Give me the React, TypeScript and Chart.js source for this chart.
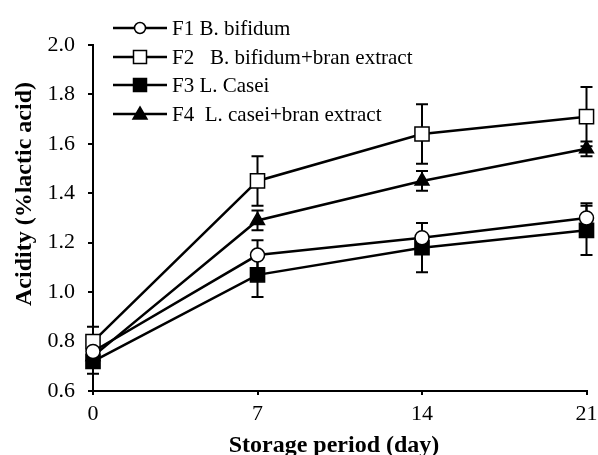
import React, { useEffect, useRef } from "react";
import { Chart, registerables } from "chart.js";

Chart.register(...registerables);

const days = [0, 7, 14, 21];
const labels = ["F1 B. bifidum", "F2   B. bifidum+bran extract", "F3 L. Casei", "F4  L. casei+bran extract"];
const f1 = [0.76, 1.15, 1.22, 1.30];
const f2 = [0.80, 1.45, 1.64, 1.71];
const f3 = [0.72, 1.07, 1.18, 1.25];
const f4 = [0.74, 1.29, 1.45, 1.58];
const e1 = [0.04, 0.06, 0.06, 0.06];
const e2 = [0.06, 0.10, 0.12, 0.12];
const e3 = [0.05, 0.09, 0.10, 0.10];
const e4 = [0.04, 0.04, 0.04, 0.03];
const yTicks = [0.6, 0.8, 1.0, 1.2, 1.4, 1.6, 1.8, 2.0];
const xTitle = "Storage period (day)";
const yTitle = "Acidity (%lactic acid)";

const SERIF = "'Liberation Serif', 'Times New Roman', serif";

export default function App() {
  const ref = useRef<HTMLCanvasElement>(null);
  useEffect(() => {
    const series = [f1, f2, f3, f4];
    const errs = [e1, e2, e3, e4];
    const styles = [
      { ps: "circle", r: 7, bg: "#fff" },
      { ps: "rect", r: 10, bg: "#fff" },
      { ps: "rect", r: 10, bg: "#000" },
      { ps: "triangle", r: 8, bg: "#000" },
    ];
    const datasets = series.map((s, i) => ({
      label: labels[i],
      data: s.map((v, j) => ({ x: days[j], y: v })),
      borderColor: "#000",
      borderWidth: 2.5,
      backgroundColor: styles[i].bg,
      pointStyle: styles[i].ps as any,
      pointRadius: styles[i].r,
      pointBorderWidth: 1.5,
      pointBorderColor: "#000",
      pointBackgroundColor: styles[i].bg,
      tension: 0,
      clip: false as any,
    }));

    const errorBars = {
      id: "errorBars",
      beforeDatasetsDraw(chart: any) {
        const { ctx, scales } = chart;
        ctx.save();
        ctx.strokeStyle = "#000";
        ctx.lineWidth = 2;
        series.forEach((s, i) => {
          s.forEach((v, j) => {
            const x = scales.x.getPixelForValue(days[j]);
            const yt = scales.y.getPixelForValue(v + errs[i][j]);
            const yb = scales.y.getPixelForValue(v - errs[i][j]);
            ctx.beginPath();
            ctx.moveTo(x, yt);
            ctx.lineTo(x, yb);
            ctx.moveTo(x - 6, yt);
            ctx.lineTo(x + 6, yt);
            ctx.moveTo(x - 6, yb);
            ctx.lineTo(x + 6, yb);
            ctx.stroke();
          });
        });
        ctx.restore();
      },
    };

    const overlay = {
      id: "overlay",
      afterDraw(chart: any) {
        const { ctx } = chart;
        ctx.save();
        // legend
        const x0 = 113, x1 = 167, mx = 140, tx = 172;
        const ys = [28, 57, 85, 114];
        chart.data.datasets.forEach((ds: any, i: number) => {
          const y = ys[i];
          ctx.strokeStyle = "#000";
          ctx.lineWidth = 2.5;
          ctx.beginPath();
          ctx.moveTo(x0, y);
          ctx.lineTo(x1, y);
          ctx.stroke();
          const st = styles[i];
          ctx.fillStyle = st.bg;
          ctx.lineWidth = 1.5;
          ctx.beginPath();
          if (st.ps === "circle") {
            ctx.arc(mx, y, 5.5, 0, Math.PI * 2);
          } else if (st.ps === "rect") {
            ctx.rect(mx - 6.5, y - 6.5, 13, 13);
          } else {
            ctx.moveTo(mx, y - 7);
            ctx.lineTo(mx + 7, y + 5);
            ctx.lineTo(mx - 7, y + 5);
            ctx.closePath();
          }
          ctx.fill();
          ctx.stroke();
          ctx.fillStyle = "#000";
          ctx.font = `21px ${SERIF}`;
          ctx.textBaseline = "alphabetic";
          ctx.textAlign = "left";
          ctx.fillText(ds.label, tx, y + 7);
        });
        // axis titles
        ctx.fillStyle = "#000";
        ctx.font = `bold 24px ${SERIF}`;
        ctx.textAlign = "center";
        ctx.textBaseline = "alphabetic";
        ctx.fillText(xTitle, 334, 452);
        ctx.translate(31, 194);
        ctx.rotate(-Math.PI / 2);
        ctx.fillText(yTitle, 0, 0);
        ctx.restore();
      },
    };

    const chart = new Chart(ref.current!, {
      type: "line",
      data: { datasets: datasets as any },
      options: {
        animation: false,
        responsive: false,
        layout: { padding: { top: 45, right: 9, left: 0, bottom: 0 } },
        plugins: { legend: { display: false }, tooltip: { enabled: false } },
        scales: {
          x: {
            type: "linear",
            min: 0,
            max: 21,
            afterBuildTicks: (axis: any) => {
              axis.ticks = days.map((d) => ({ value: d }));
            },
            afterFit: (axis: any) => {
              axis.height = 64;
              axis.paddingLeft = 0;
              axis.paddingRight = 0;
            },
            grid: { display: true, drawOnChartArea: false, drawTicks: true, tickLength: 4, color: "#000", lineWidth: 2 },
            border: { display: true, color: "#000", width: 2 },
            ticks: { color: "#000", font: { family: SERIF, size: 22 }, padding: 6, maxRotation: 0 },
            title: { display: false },
          },
          y: {
            type: "linear",
            min: 0.6,
            max: 2.0,
            afterBuildTicks: (axis: any) => {
              axis.ticks = yTicks.map((v) => ({ value: v }));
            },
            afterFit: (axis: any) => {
              axis.width = 93;
              axis.paddingTop = 0;
              axis.paddingBottom = 0;
            },
            grid: { display: true, drawOnChartArea: false, drawTicks: true, tickLength: 5, color: "#000", lineWidth: 2 },
            border: { display: true, color: "#000", width: 2 },
            ticks: { color: "#000", font: { family: SERIF, size: 22 }, padding: 13, callback: (v: any) => Number(v).toFixed(1) },
            title: { display: false },
          },
        },
      },
      plugins: [errorBars, overlay],
    });
    return () => chart.destroy();
  }, []);

  return (
    <div style={{ position: "fixed", left: 0, top: 0, width: 598, height: 455, background: "#fff" }}>
      <canvas ref={ref} width={598} height={455} style={{ width: 598, height: 455 }} />
    </div>
  );
}
